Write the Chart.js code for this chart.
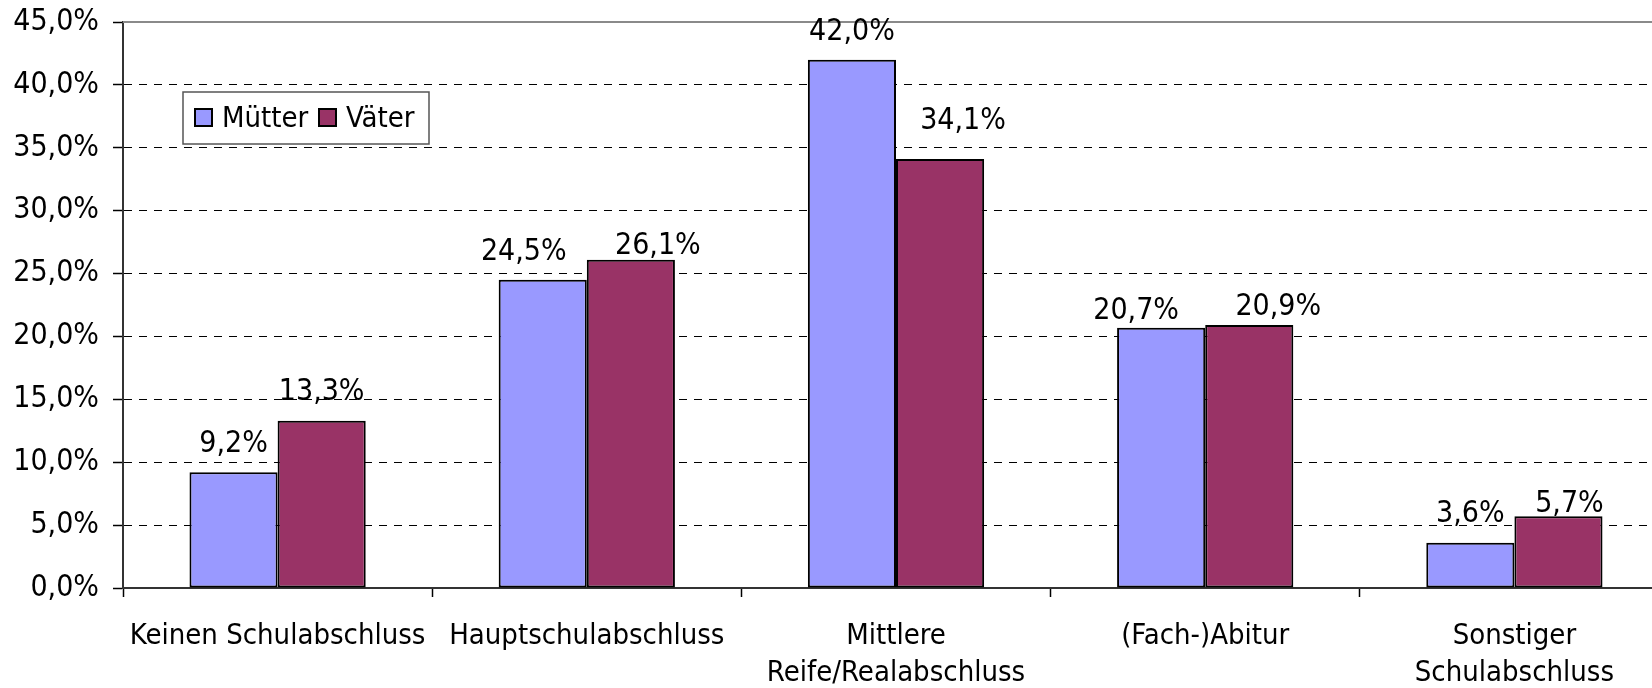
<!DOCTYPE html>
<html>
<head>
<meta charset="utf-8">
<script src="https://cdn.jsdelivr.net/npm/chart.js@4.4.1/dist/chart.umd.min.js"></script>
<style>
  html, body { margin: 0; padding: 0; background: #fff; overflow: hidden; }
  #wrap { width: 1669px; height: 688px; }
</style>
</head>
<body>
<div id="wrap"><canvas id="c" width="1669" height="688"></canvas></div>
<script>
const categories = ['Keinen Schulabschluss', 'Hauptschulabschluss', ['Mittlere', 'Reife/Realabschluss'], '(Fach-)Abitur', ['Sonstiger', 'Schulabschluss']];
const muetter = [9.2, 24.5, 42.0, 20.7, 3.6];
const vaeter = [13.3, 26.1, 34.1, 20.9, 5.7];
const seriesNames = ['Mütter', 'Väter'];
const yTicks = [0, 5, 10, 15, 20, 25, 30, 35, 40, 45];

// value-label placement (manually moved labels in the original), in px
const labelShiftX = [[0, -19, 0, -25, 0], [0, 27, 23, 29, 11]];
const labelGap = [[20, 20, 20, 9, 21], [21, 6, 30, 10, 4]];

const FONT = '"DejaVu Sans Condensed", "DejaVu Sans", sans-serif';
const fmt = v => v.toFixed(1).replace('.', ',') + '%';

const overlay = {
  id: 'overlay',
  beforeDatasetsDraw(chart) {
    const {ctx, chartArea} = chart;
    ctx.save();
    ctx.strokeStyle = '#8a8a8a';
    ctx.lineWidth = 2;
    ctx.beginPath();
    ctx.moveTo(chartArea.left, chartArea.top);
    ctx.lineTo(chartArea.right, chartArea.top);
    ctx.stroke();
    ctx.restore();
  },
  afterDatasetsDraw(chart) {
    const {ctx, chartArea} = chart;
    ctx.save();
    ctx.font = '30px ' + FONT;
    ctx.fillStyle = '#000';
    ctx.textAlign = 'center';
    ctx.textBaseline = 'alphabetic';
    chart.data.datasets.forEach((ds, di) => {
      chart.getDatasetMeta(di).data.forEach((el, i) => {
        ctx.fillText(fmt(ds.data[i]), el.x + labelShiftX[di][i], el.y - labelGap[di][i]);
      });
    });
    // legend
    const lx = chartArea.left + 60, ly = chartArea.top + 70;
    ctx.fillStyle = '#fff';
    ctx.fillRect(lx, ly, 246, 52);
    ctx.strokeStyle = '#555';
    ctx.lineWidth = 1.5;
    ctx.strokeRect(lx, ly, 246, 52);
    ctx.textAlign = 'left';
    ctx.font = '29px ' + FONT;
    const itemX = [lx + 12, lx + 136];
    chart.data.datasets.forEach((ds, di) => {
      const x = itemX[di];
      ctx.fillStyle = ds.backgroundColor;
      ctx.fillRect(x, ly + 17, 17, 17);
      ctx.strokeStyle = '#000';
      ctx.lineWidth = 2;
      ctx.strokeRect(x, ly + 17, 17, 17);
      ctx.fillStyle = '#000';
      ctx.fillText(ds.label, x + 27, ly + 35);
    });
    ctx.restore();
  }
};

new Chart(document.getElementById('c'), {
  type: 'bar',
  data: {
    labels: categories,
    datasets: [
      { label: seriesNames[0], data: muetter, backgroundColor: '#9999FF', borderColor: '#000', borderWidth: 2, borderSkipped: false },
      { label: seriesNames[1], data: vaeter, backgroundColor: '#993366', borderColor: '#000', borderWidth: 2, borderSkipped: false }
    ]
  },
  options: {
    responsive: false,
    animation: false,
    devicePixelRatio: 1,
    layout: { padding: { top: 22, right: 0, left: 0, bottom: 0 } },
    plugins: { legend: { display: false }, tooltip: { enabled: false } },
    datasets: { bar: { categoryPercentage: 0.57, barPercentage: 1.0 } },
    scales: {
      x: {
        afterFit(s) { s.height = 100; s.paddingLeft = 0; s.paddingRight = 0; s.paddingTop = 0; s.paddingBottom = 0; },
        grid: { display: true, drawOnChartArea: false, offset: true, tickLength: 9, tickColor: '#000', tickWidth: 1.5 },
        border: { display: true, color: '#333', width: 2 },
        ticks: { autoSkip: false, maxRotation: 0, minRotation: 0, padding: 21, color: '#000',
                 font: { family: FONT, size: 29, lineHeight: 1.28 } }
      },
      y: {
        min: 0, max: 45,
        afterFit(s) { s.width = 123; s.paddingTop = 0; s.paddingBottom = 0; s.paddingLeft = 0; s.paddingRight = 0; },
        afterBuildTicks(s) { s.ticks = yTicks.map(v => ({ value: v })); },
        grid: {
          color: c => (c.tick && (c.tick.value === 45 || c.tick.value === 0)) ? 'rgba(0,0,0,0)' : '#000',
          tickColor: '#000', tickLength: 10, lineWidth: 1, tickWidth: 1.5
        },
        border: { display: true, color: '#333', width: 2, dash: [8, 7] },
        ticks: { padding: 14, color: '#000', font: { family: FONT, size: 30 }, callback: v => fmt(v) }
      }
    }
  },
  plugins: [overlay]
});
</script>
</body>
</html>
